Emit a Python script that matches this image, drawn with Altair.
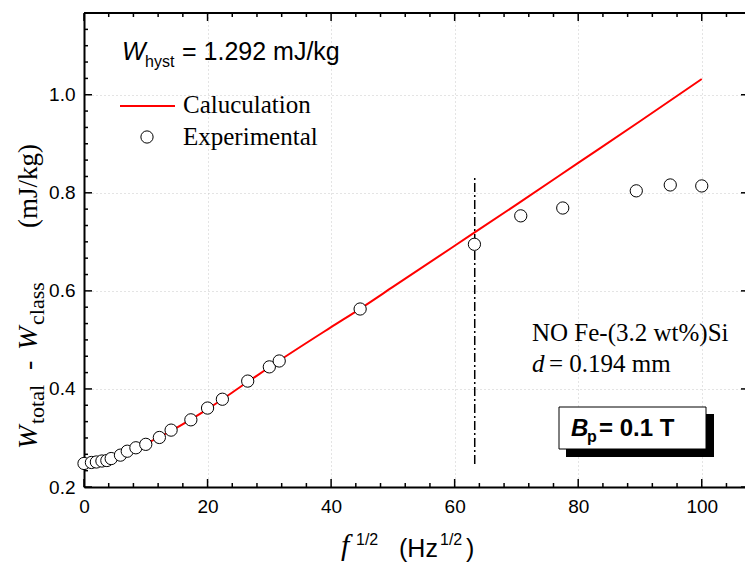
import altair as alt
import pandas as pd

# ---------------- data ----------------
exp_x = [0.0, 1.2, 2.0, 2.9, 3.7, 4.4, 5.9, 7.0, 8.4, 10.0, 12.2, 14.1, 17.3, 20.0,
         22.4, 26.5, 30.0, 31.6, 44.7, 63.2, 70.7, 77.5, 89.4, 94.9, 100.0]
exp_y = [0.248, 0.250, 0.251, 0.253, 0.254, 0.258, 0.265, 0.273, 0.280, 0.287, 0.301,
         0.316, 0.337, 0.361, 0.379, 0.416, 0.445, 0.457, 0.563, 0.695, 0.753, 0.769,
         0.804, 0.816, 0.814]

calc_x = [0, 2, 4, 6, 8, 10, 14, 20, 26, 32, 40, 45, 50, 60, 70, 80, 90, 100]
calc_y = [0.247, 0.249, 0.255, 0.264, 0.276, 0.288, 0.314, 0.359, 0.410, 0.461, 0.526,
          0.566, 0.608, 0.692, 0.776, 0.861, 0.946, 1.032]

vline_x = [63.25]
vline_y0 = [0.247]
vline_y1 = [0.835]

x_major = [0, 20, 40, 60, 80, 100]
y_major = [0.2, 0.4, 0.6, 0.8, 1.0]

# ---------------- layout ----------------
OX, OY = 84, 13          # plot origin in page pixels
W, H = 661, 474          # plot area
X_DOM = [0, 107]
Y_DOM = [0.2, 1.1667]

SANS = "Liberation Sans"
SERIF = "Liberation Serif"

x_minor = [v for v in range(4, 107, 4) if v % 20 != 0]
y_minor = [round(0.2 + i * 0.2 / 6, 4) for i in range(1, 29) if i % 6 != 0]

xs = alt.Scale(domain=X_DOM, nice=False, zero=False)
ys = alt.Scale(domain=Y_DOM, nice=False, zero=False)

grid_kw = dict(grid=True, gridColor="#c8c8c8", gridDash=[1, 3], gridWidth=1)
xaxis = alt.Axis(values=x_major, title=None, orient="bottom", domain=True,
                 domainColor="black", domainWidth=2, ticks=False, labelPadding=10,
                 labelFlush=False, labelFont=SANS, labelFontSize=19,
                 labelColor="black", **grid_kw)
yaxis = alt.Axis(values=y_major, title=None, orient="left", format=".1f", domain=True,
                 domainColor="black", domainWidth=2, ticks=False, labelPadding=9,
                 labelFlush=False, labelFont=SANS, labelFontSize=19,
                 labelColor="black", **grid_kw)


def X(f):
    return alt.X(f, type="quantitative", scale=xs, axis=xaxis)


def Y(f):
    return alt.Y(f, type="quantitative", scale=ys, axis=yaxis)


layers = []

# reference vertical dash-dot line
vdf = pd.DataFrame({"x": vline_x, "y0": vline_y0, "y1": vline_y1})
layers.append(alt.Chart(vdf).mark_rule(color="black", strokeWidth=1.5,
                                       strokeDash=[9, 3, 2, 3]).encode(
    x=X("x"), y=Y("y0"), y2="y1"))

# calculated line
cdf = pd.DataFrame({"x": calc_x, "y": calc_y})
layers.append(alt.Chart(cdf).mark_line(color="#ff0000", strokeWidth=2,
                                       interpolate="monotone").encode(
    x=X("x"), y=Y("y")))

# experimental points
edf = pd.DataFrame({"x": exp_x, "y": exp_y})
layers.append(alt.Chart(edf).mark_point(shape="circle", size=150, fill="white",
                                        fillOpacity=1, opacity=1, stroke="black",
                                        strokeWidth=1).encode(x=X("x"), y=Y("y")))


# ticks (inward)
def xticks(vals, y0, y1):
    return alt.Chart(pd.DataFrame({"v": vals})).mark_rule(
        color="black", strokeWidth=1.5).encode(x=X("v"), y=alt.value(y0), y2=alt.value(y1))


def yticks(vals, x0, x1):
    return alt.Chart(pd.DataFrame({"v": vals})).mark_rule(
        color="black", strokeWidth=1.5).encode(y=Y("v"), x=alt.value(x0), x2=alt.value(x1))


layers += [
    xticks(x_major, H, H - 8), xticks(x_minor, H, H - 4),
    xticks(x_major, 0, 8), xticks(x_minor, 0, 4),
    yticks(y_major, 0, 8), yticks(y_minor, 0, 4),
    yticks(y_major, W - 4, W),
]

# top frame line
layers.append(alt.Chart(pd.DataFrame({"a": [0]})).mark_rule(
    color="black", strokeWidth=2).encode(x=alt.value(0), x2=alt.value(W), y=alt.value(0)))


def txt(s, x, y, size, font=SANS, style="normal", weight="normal", angle=0):
    return alt.Chart(pd.DataFrame({"t": [s]})).mark_text(
        font=font, fontSize=size, fontStyle=style, fontWeight=weight, angle=angle,
        align="left", baseline="alphabetic", color="black").encode(
        x=alt.value(x - OX), y=alt.value(y - OY), text="t:N")


# W_hyst annotation
layers += [
    txt("W", 122, 60, 25, style="italic"),
    txt("hyst", 145, 67, 16),
    txt("= 1.292 mJ/kg", 182, 60, 25),
]

# legend
layers.append(alt.Chart(pd.DataFrame({"a": [0]})).mark_rule(
    color="#ff0000", strokeWidth=2).encode(
    x=alt.value(120 - OX), x2=alt.value(175 - OX), y=alt.value(106 - OY)))
layers.append(alt.Chart(pd.DataFrame({"a": [0]})).mark_point(
    shape="circle", size=150, fill="white", fillOpacity=1, opacity=1, stroke="black",
    strokeWidth=1).encode(x=alt.value(147 - OX), y=alt.value(137 - OY)))
layers += [
    txt("Caluculation", 183, 113, 25, font=SERIF),
    txt("Experimental", 183, 145, 25, font=SERIF),
]

# sample annotation
layers += [
    txt("NO Fe-(3.2 wt%)Si", 532, 341, 25, font=SERIF),
    txt("d", 532, 372, 25, font=SERIF, style="italic"),
    txt("= 0.194 mm", 549, 372, 25, font=SERIF),
]

# boxed B_p label with shadow
layers.append(alt.Chart(pd.DataFrame({"a": [0]})).mark_rect(color="black").encode(
    x=alt.value(566 - OX), x2=alt.value(714 - OX), y=alt.value(414 - OY), y2=alt.value(457 - OY)))
layers.append(alt.Chart(pd.DataFrame({"a": [0]})).mark_rect(
    fill="white", stroke="black", strokeWidth=1).encode(
    x=alt.value(559 - OX), x2=alt.value(706 - OX), y=alt.value(407 - OY), y2=alt.value(449 - OY)))
layers += [
    txt("B", 571, 436, 24, style="italic", weight="bold"),
    txt("p", 587, 442, 16, weight="bold"),
    txt("= 0.1 T", 599, 436, 24, weight="bold"),
]

# x axis title
layers += [
    txt("f", 341, 555, 30, font=SERIF, style="italic"),
    txt("1/2", 356, 545, 16),
    txt("(Hz", 399, 557, 25),
    txt("1/2", 440, 545, 16),
    txt(")", 466, 557, 25),
]

# y axis title (rotated, reading bottom to top)
YB = 37
layers += [
    txt("W", YB, 449, 28, font=SERIF, style="italic", angle=270),
    txt("total", YB + 7, 424, 22, font=SERIF, angle=270),
    txt("-", YB, 370, 28, font=SERIF, angle=270),
    txt("W", YB, 350, 28, font=SERIF, style="italic", angle=270),
    txt("class", YB + 7, 325, 22, font=SERIF, angle=270),
    txt("(mJ/kg)", YB, 228, 27, font=SERIF, angle=270),
]

chart = alt.layer(*layers).properties(
    width=W, height=H,
    autosize=alt.AutoSizeParams(type="none"),
    padding={"left": OX, "top": OY, "right": 745 - OX - W, "bottom": 563 - OY - H},
).configure_view(stroke=None).configure(background="white")

chart.save("out.html", embed_options={"renderer": "svg", "actions": False})
